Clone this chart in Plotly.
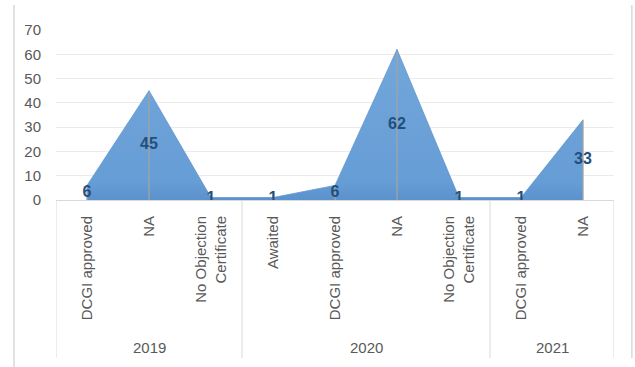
import plotly.graph_objects as go

# ---- data ----
years = ["2019", "2020", "2021"]
year_categories = [
    ["DCGI approved", "NA", "No Objection<br>Certificate"],
    ["Awaited", "DCGI approved", "NA", "No Objection<br>Certificate"],
    ["DCGI approved", "NA"],
]
year_values = [
    [6, 45, 1],
    [1, 6, 62, 1],
    [1, 33],
]
y_ticks = [0, 10, 20, 30, 40, 50, 60, 70]

# ---- flatten ----
labels, values = [], []
for cats, vals in zip(year_categories, year_values):
    labels += cats
    values += vals
xs = list(range(len(labels)))

FONT = "Liberation Sans"
GRAY = "#595959"
LINE = "#d9d9d9"

fig = go.Figure()
fig.add_trace(go.Scatter(
    x=xs, y=values, mode="lines", fill="tozeroy",
    line=dict(color="#5f97d0", width=0.8),
    fillgradient=dict(type="vertical", start=0, stop=max(values),
                      colorscale=[[0, "#5b92cd"], [0.12, "#669dd5"], [1, "#72a7da"]]),
    error_y=dict(type="data", symmetric=False, array=[0] * len(values),
                 arrayminus=values, color="#a3a3a3", thickness=1.3, width=0),
    hoverinfo="skip", showlegend=False,
))
fig.add_trace(go.Scatter(
    x=xs, y=[v / 2 for v in values], mode="text",
    text=[str(v) for v in values], textposition="middle center",
    textfont=dict(family=FONT, size=16, color="#234f7d", weight="bold"),
    hoverinfo="skip", showlegend=False,
))

shapes = []
annotations = []
start = 0
bounds = [-0.5]
for yr, cats in zip(years, year_categories):
    n = len(cats)
    annotations.append(dict(x=start + (n - 1) / 2, y=-0.865, xref="x", yref="paper",
                            yanchor="middle", xanchor="center",
                            text=yr, showarrow=False,
                            font=dict(family=FONT, size=15, color=GRAY)))
    start += n
    bounds.append(start - 0.5)
for b in bounds:
    shapes.append(dict(type="line", xref="x", yref="paper", x0=b, x1=b, y0=0, y1=-0.929,
                       line=dict(color=LINE, width=1)))
# chart frame sides
shapes.append(dict(type="line", xref="paper", yref="paper", x0=-0.0753, x1=-0.0753,
                   y0=1.147, y1=-0.99, line=dict(color=LINE, width=1.5)))
shapes.append(dict(type="line", xref="paper", yref="paper", x0=1.032, x1=1.032,
                   y0=1.147, y1=-0.929, line=dict(color=LINE, width=1.5)))

fig.update_layout(
    width=635, height=367,
    margin=dict(l=56, r=21, t=30, b=167),
    paper_bgcolor="white", plot_bgcolor="white",
    font=dict(family=FONT, size=15, color=GRAY),
    shapes=shapes, annotations=annotations,
    xaxis=dict(range=[-0.5, len(labels) - 0.5], tickmode="array", tickvals=xs,
               ticktext=labels, tickangle=-90, showgrid=False, zeroline=False,
               showline=True, linecolor=LINE, linewidth=1, ticks="",
               ticklabelstandoff=9, tickfont=dict(family=FONT, size=15, color=GRAY)),
    yaxis=dict(range=[0, 70], tickmode="array", tickvals=y_ticks,
               showgrid=True, gridcolor="#ebebeb", gridwidth=1, zeroline=False,
               showline=False, ticks="", ticklabelstandoff=14,
               tickfont=dict(family=FONT, size=15, color=GRAY)),
)

fig.write_html("out.html")
